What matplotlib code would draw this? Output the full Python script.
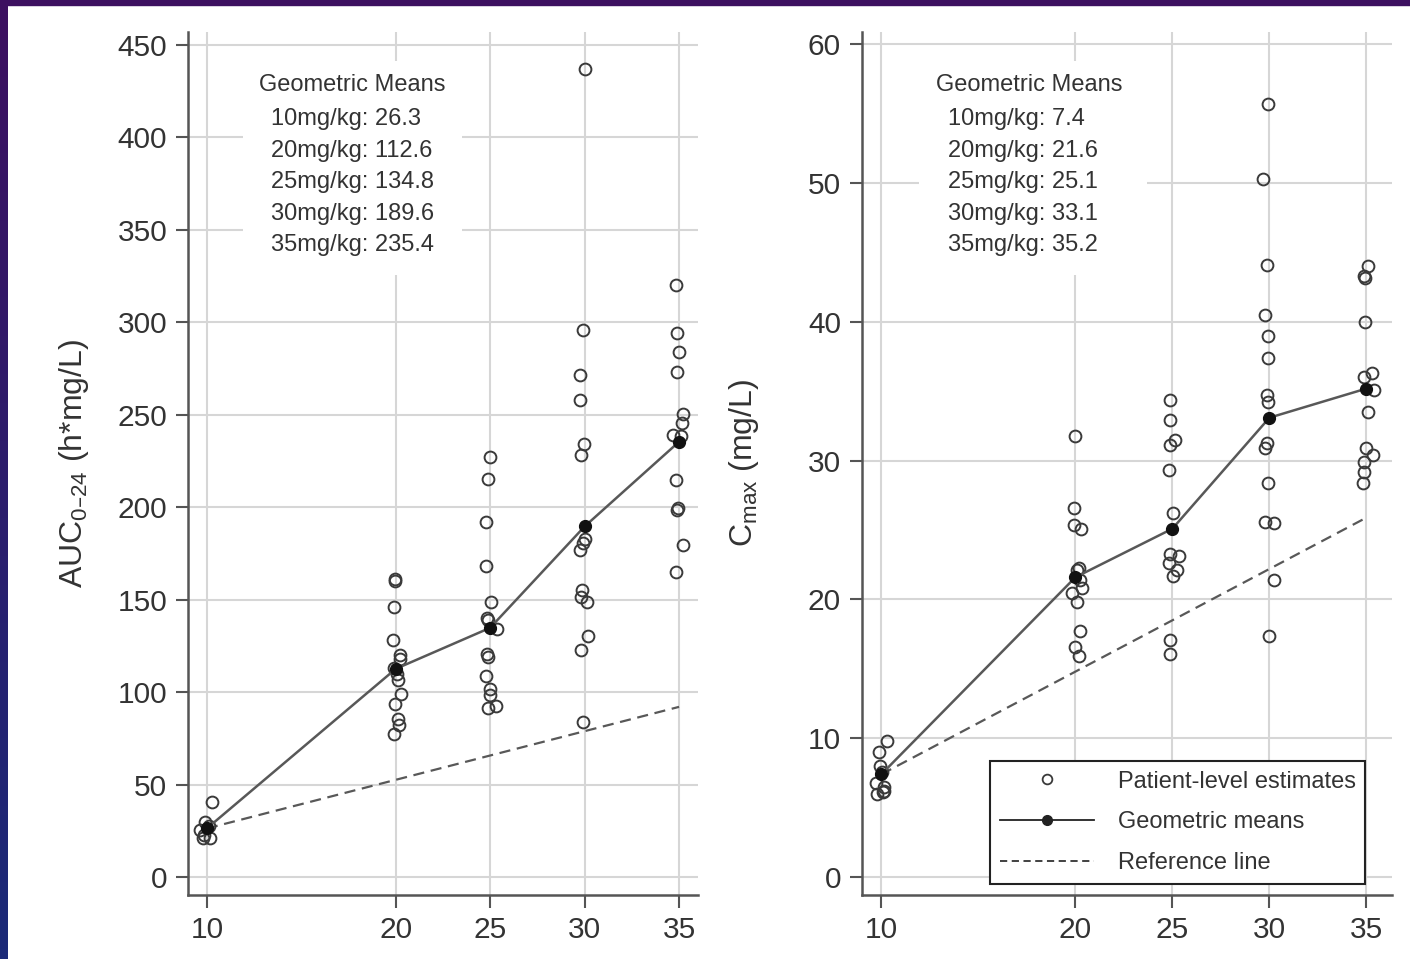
import numpy as np
import matplotlib.pyplot as plt
from matplotlib.patches import Rectangle

plt.rcParams['font.family'] = ['Liberation Sans', 'DejaVu Sans']
plt.rcParams['mathtext.default'] = 'regular'

# dose levels (mg/kg) and geometric means
doses = [10, 20, 25, 30, 35]
auc_gm = [26.3, 112.6, 134.8, 189.6, 235.4]
cmax_gm = [7.4, 21.6, 25.1, 33.1, 35.2]

# dose-proportional reference line (from the 10 mg/kg mean)
ref_doses = [10, 35]
ref_auc = [26.3, 92.05]
ref_cmax = [7.4, 25.9]

# patient-level AUC0-24 (h*mg/L), x as plotted (jittered dose)
auc_10 = [40.4, 30.0, 27.5, 25.4, 23.0, 21.0, 21.0]
auc_10_x = [10.25, 9.9, 10.1, 9.65, 9.85, 9.8, 10.15]
auc_20 = [161, 160, 146, 128, 120, 118, 113, 110, 106.5, 99, 93.5, 85.5, 82.5, 77.5]
auc_20_x = [19.95, 19.95, 19.89, 19.86, 20.21, 20.21, 19.9, 20.05, 20.12, 20.30, 19.95, 20.12, 20.17, 19.89]
auc_25 = [227, 215, 192, 168, 149, 140, 139, 134, 120.5, 119, 108.5, 101.5, 98.5, 91.5, 92.5]
auc_25_x = [25.0, 24.86, 24.79, 24.79, 25.04, 24.82, 24.91, 25.35, 24.82, 24.91, 24.79, 25.0, 25.0, 24.86, 25.30]
auc_30 = [437, 296, 271.5, 258, 234, 228.5, 183, 180.5, 177, 155, 151.5, 148.5, 130.5, 123, 84]
auc_30_x = [30.0, 29.91, 29.77, 29.74, 29.96, 29.79, 30.0, 29.91, 29.74, 29.84, 29.79, 30.12, 30.19, 29.79, 29.91]
auc_35 = [320, 294, 284, 273, 250.5, 245.5, 239, 238.5, 214.5, 198.5, 199.5, 179.5, 165]
auc_35_x = [34.83, 34.91, 35.02, 34.88, 35.23, 35.17, 34.70, 35.09, 34.84, 34.88, 34.96, 35.20, 34.84]

# patient-level Cmax (mg/L)
cmax_10 = [9.8, 9.0, 8.0, 7.6, 6.8, 6.5, 6.2, 6.0, 6.1]
cmax_10_x = [10.29, 9.86, 9.91, 10.04, 9.74, 10.12, 10.15, 9.78, 10.09]
cmax_20 = [31.8, 26.6, 25.4, 25.1, 22.3, 22.1, 21.4, 20.8, 20.5, 19.8, 17.7, 16.6, 15.9]
cmax_20_x = [19.96, 19.91, 19.91, 20.29, 20.17, 20.09, 20.26, 20.35, 19.83, 20.09, 20.22, 19.96, 20.17]
cmax_25 = [34.4, 32.9, 31.5, 31.1, 29.3, 26.2, 23.3, 23.1, 22.6, 22.1, 21.7, 17.1, 16.1]
cmax_25_x = [24.9, 24.9, 25.12, 24.86, 24.81, 25.03, 24.9, 25.32, 24.81, 25.24, 25.03, 24.9, 24.9]
cmax_30 = [55.7, 50.3, 44.1, 40.5, 39.0, 37.4, 34.7, 34.2, 31.3, 30.9, 28.4, 25.6, 25.5, 21.4, 17.4]
cmax_30_x = [29.95, 29.69, 29.86, 29.79, 29.91, 29.91, 29.88, 29.91, 29.88, 29.78, 29.91, 29.79, 30.22, 30.22, 29.96]
cmax_35 = [44.0, 43.3, 43.2, 40.0, 36.3, 36.0, 35.1, 33.5, 30.9, 30.4, 29.9, 29.2, 28.4]
cmax_35_x = [35.07, 34.86, 34.95, 34.95, 35.29, 34.86, 35.38, 35.09, 34.98, 35.34, 34.86, 34.86, 34.83]

auc_pts = [(auc_10_x, auc_10), (auc_20_x, auc_20), (auc_25_x, auc_25),
           (auc_30_x, auc_30), (auc_35_x, auc_35)]
cmax_pts = [(cmax_10_x, cmax_10), (cmax_20_x, cmax_20), (cmax_25_x, cmax_25),
            (cmax_30_x, cmax_30), (cmax_35_x, cmax_35)]

dark = '#3a3a3a'
line_col = '#585858'
grid_col = '#d6d6d6'

fig = plt.figure(figsize=(14.1, 9.59), dpi=100)

# slide background strips (top and left edge)
bg = fig.add_axes([0, 0, 8 / 1410, 1])
bg.imshow(np.linspace(0, 1, 100).reshape(-1, 1), aspect='auto',
          cmap=plt.matplotlib.colors.LinearSegmentedColormap.from_list('bg', ['#3d1060', '#1b2a78']),
          extent=[0, 1, 0, 1])
bg.axis('off')
fig.patches.append(Rectangle((0, 1 - 5 / 959), 1, 5 / 959, transform=fig.transFigure,
                             color='#3d1060', zorder=0))

ax1 = fig.add_axes([0.1333, 0.0667, 0.3617, 0.9])
ax2 = fig.add_axes([0.6113, 0.0667, 0.3757, 0.9])


def draw_panel(ax, pts, gm, ref, yticks, ylim, xlim, ylabel, gm_labels, lpad):
    for xs, ys in pts:
        ax.plot(xs, ys, 'o', mfc='none', mec=dark, ms=8.5, mew=1.4, zorder=3)
    ax.plot(doses, gm, '-', color=line_col, lw=1.8, zorder=4)
    ax.plot(doses, gm, 'o', color='#111111', ms=8.5, zorder=5)
    ax.plot(ref_doses, ref, '--', color=line_col, lw=1.6, dashes=(5, 3), zorder=2)

    ax.set_xlim(*xlim)
    ax.set_ylim(*ylim)
    ax.set_xticks(doses)
    ax.set_yticks(yticks)
    ax.grid(True, color=grid_col, lw=1.5, zorder=0)
    ax.set_axisbelow(True)
    for s in ['top', 'right']:
        ax.spines[s].set_visible(False)
    for s in ['left', 'bottom']:
        ax.spines[s].set_color('#555555')
        ax.spines[s].set_linewidth(1.8)
    ax.tick_params(axis='both', length=9, width=1.5, color='#555555',
                   labelsize=21.5, labelcolor='#333333', pad=6)
    ax.set_ylabel(ylabel, fontsize=23, color='#333333', labelpad=lpad)

    # white box behind geometric means text
    ax.add_patch(Rectangle((0.108, 0.718), 0.43, 0.248, transform=ax.transAxes,
                           facecolor='white', edgecolor='none', zorder=1))
    ax.text(0.14, 0.938, 'Geometric Means', transform=ax.transAxes, fontsize=17,
            color='#333333', va='center', ha='left', zorder=6)
    for i, (d, v) in enumerate(zip(doses, gm_labels)):
        ax.text(0.163, 0.899 - i * 0.0365, f'{d}mg/kg: {v}', transform=ax.transAxes,
                fontsize=17, color='#333333', va='center', ha='left', zorder=6)


draw_panel(ax1, auc_pts, auc_gm, ref_auc, np.arange(0, 451, 50), (-9.7, 457),
           (9.0, 36.0), 'AUC$_{0\u201324}$ (h*mg/L)', auc_gm, 19)
draw_panel(ax2, cmax_pts, cmax_gm, ref_cmax, np.arange(0, 61, 10), (-1.3, 60.9),
           (9.0, 36.3), 'C$_{max}$ (mg/L)', cmax_gm, 34)

# legend in right panel
h1, = ax2.plot([], [], 'o', mfc='none', mec=dark, ms=7, mew=1.3)
h2, = ax2.plot([], [], '-o', color='#222222', lw=1.3, ms=7)
h3, = ax2.plot([], [], '--', color='#333333', lw=1.3, dashes=(4, 2.5))
leg = ax2.legend([h1, h2, h3], ['Patient-level estimates', 'Geometric means', 'Reference line'],
                 loc='lower right', bbox_to_anchor=(0.95, 0.013), fontsize=17,
                 handlelength=4.0, handletextpad=1.0, labelspacing=0.8,
                 fancybox=False, framealpha=1, edgecolor='#222222', borderpad=0.4,
                 borderaxespad=0)
leg.get_frame().set_linewidth(1.5)
for t in leg.get_texts():
    t.set_color('#333333')

fig.savefig('out.png', dpi=100)
